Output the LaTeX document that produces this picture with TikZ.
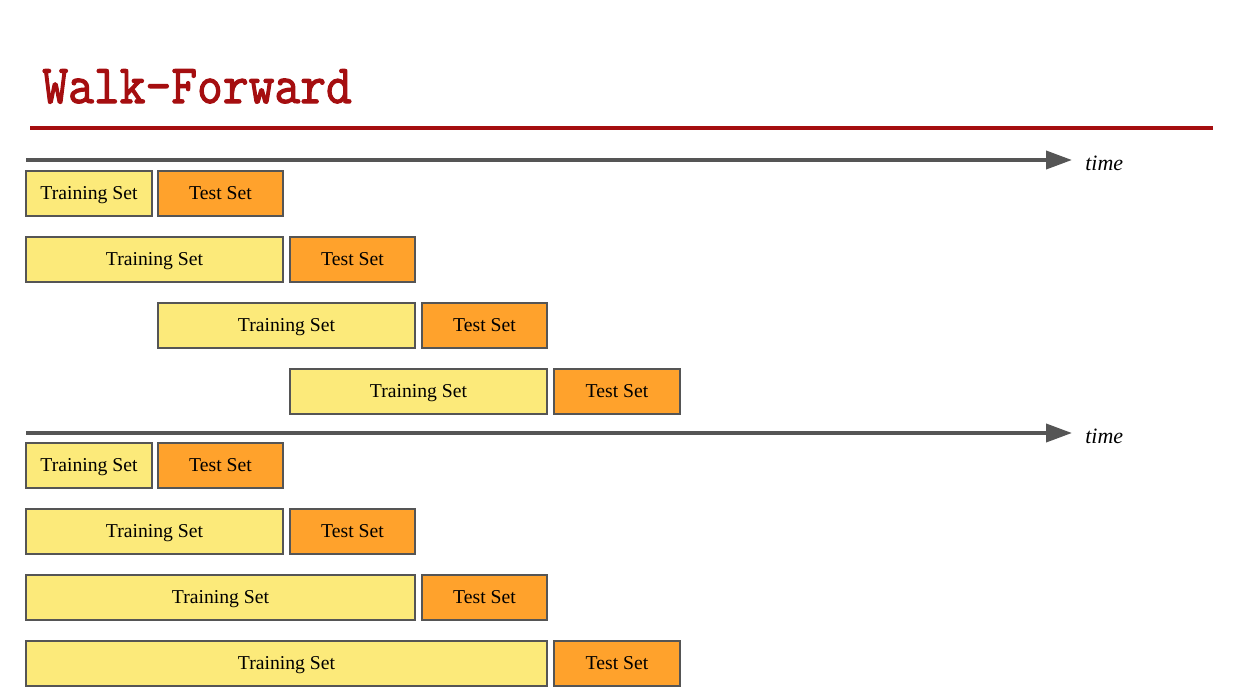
\documentclass[tikz,border=0pt]{standalone}
\usepackage{fontspec}
\setmainfont{Liberation Serif}
\newfontfamily\titlefont{Latin Modern Mono}[AutoFakeBold=2.2]
\usetikzlibrary{arrows.meta}
\definecolor{wfred}{HTML}{A50E10}
\definecolor{wfgray}{HTML}{555555}
\definecolor{trainyellow}{HTML}{FCEA7A}
\definecolor{testorange}{HTML}{FFA22C}
\tikzset{
  setbox/.style={draw=wfgray, line width=1.5pt, minimum height=0.9cm, inner sep=0pt,
    text height=1.45ex, text depth=0pt, font=\fontsize{11.2}{13}\selectfont},
  trainbox/.style={setbox, fill=trainyellow},
  testbox/.style={setbox, fill=testorange},
  timeline/.style={wfgray, line width=2.2pt, -{Triangle[length=0.52cm, width=0.36cm]}},
  timelabel/.style={anchor=west, inner sep=0pt, font=\fontsize{12.5}{14}\selectfont\itshape}
}
\begin{document}
\begin{tikzpicture}[x=0.02cm, y=-0.02cm]
  \useasboundingbox (0,0) rectangle (1241,697);
  % title and rule
  \node[anchor=base west, inner sep=0pt, text=wfred, yscale=1.1,
        font=\fontsize{28.5}{30}\titlefont\bfseries] (title) at (42,103) {Walk-Forward};
  \coordinate (rules) at (30,128);
  \coordinate (rulee) at (1213,128);
  \draw[wfred, line width=2.4pt] (rules) -- (rulee);

  % upper timeline: sliding window
  \coordinate (ta) at (26,160);
  \coordinate (tb) at (1072,160);
  \draw[timeline] (ta) -- (tb);
  \node[timelabel] (timea) at (1085,163) {time};
  \node[trainbox, minimum width=2.52cm] (traina1) at (89,193.5) {Training Set};
  \node[testbox, minimum width=2.5cm] (testa1) at (220.5,193.5) {Test Set};
  \node[trainbox, minimum width=5.14cm] (traina2) at (154.5,259.5) {Training Set};
  \node[testbox, minimum width=2.5cm] (testa2) at (352.5,259.5) {Test Set};
  \node[trainbox, minimum width=5.14cm] (traina3) at (286.5,325.5) {Training Set};
  \node[testbox, minimum width=2.5cm] (testa3) at (484.5,325.5) {Test Set};
  \node[trainbox, minimum width=5.14cm] (traina4) at (418.5,391.5) {Training Set};
  \node[testbox, minimum width=2.52cm] (testa4) at (617,391.5) {Test Set};

  % lower timeline: growing window
  \coordinate (tc) at (26,433);
  \coordinate (td) at (1072,433);
  \draw[timeline] (tc) -- (td);
  \node[timelabel] (timeb) at (1085,436) {time};
  \node[trainbox, minimum width=2.52cm] (trainb1) at (89,465.5) {Training Set};
  \node[testbox, minimum width=2.5cm] (testb1) at (220.5,465.5) {Test Set};
  \node[trainbox, minimum width=5.14cm] (trainb2) at (154.5,531.5) {Training Set};
  \node[testbox, minimum width=2.5cm] (testb2) at (352.5,531.5) {Test Set};
  \node[trainbox, minimum width=7.78cm] (trainb3) at (220.5,597.5) {Training Set};
  \node[testbox, minimum width=2.5cm] (testb3) at (484.5,597.5) {Test Set};
  \node[trainbox, minimum width=10.42cm] (trainb4) at (286.5,663.5) {Training Set};
  \node[testbox, minimum width=2.52cm] (testb4) at (617,663.5) {Test Set};
\end{tikzpicture}
\end{document}
